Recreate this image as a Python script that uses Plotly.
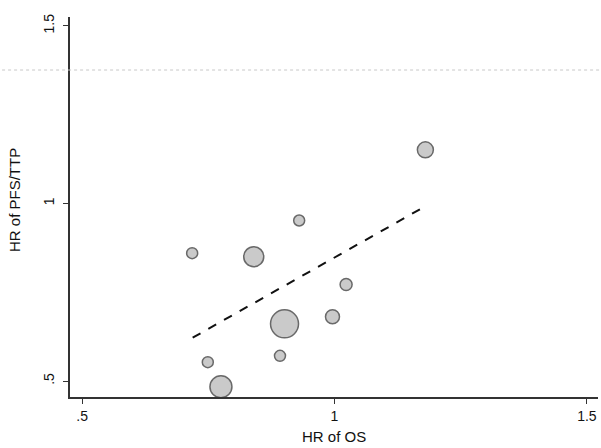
import plotly.graph_objects as go

# study points (HR of OS vs HR of PFS/TTP) and bubble weights
hr_os = [1.180, 0.930, 0.718, 0.840, 1.023, 0.996, 0.901, 0.892, 0.749, 0.775]
hr_pfs = [1.151, 0.952, 0.860, 0.850, 0.772, 0.681, 0.661, 0.571, 0.553, 0.484]
weight = [16, 11, 11, 20, 12, 14, 28, 11, 11, 22]

# fitted regression line endpoints
fit_x = [0.719, 1.181]
fit_y = [0.622, 0.993]

x_ticks = [0.5, 1, 1.5]
x_labels = [".5", "1", "1.5"]
y_ticks = [0.5, 1, 1.5]
y_labels = [".5", "1", "1.5"]

fig = go.Figure()
fig.add_trace(go.Scatter(
    x=fit_x, y=fit_y, mode="lines",
    line=dict(color="#111111", width=2, dash="dash"),
    hoverinfo="skip", showlegend=False))
fig.add_trace(go.Scatter(
    x=hr_os, y=hr_pfs, mode="markers",
    marker=dict(size=weight, color="#b4b4b4",
                line=dict(color="#2a2a2a", width=1.5)),
    showlegend=False))

# faint scan artifact line across the page
fig.add_shape(type="line", xref="paper", yref="paper",
              x0=-0.14, x1=1.01, y0=(397 - 70) / 380, y1=(397 - 70) / 380,
              line=dict(color="#c8c8c8", width=1, dash="dot"))

# axis titles as annotations
fig.add_annotation(text="HR of OS", xref="paper", yref="paper",
                   x=(334 - 70) / 528, y=-(437 - 397) / 380,
                   showarrow=False, font=dict(size=15), xanchor="center", yanchor="middle")
fig.add_annotation(text="HR of PFS/TTP", xref="paper", yref="paper",
                   x=-(70 - 14) / 528, y=(397 - 200) / 380, textangle=-90,
                   showarrow=False, font=dict(size=15), xanchor="center", yanchor="middle")

font = dict(family="Liberation Sans, Arial, sans-serif", color="#111111")
fig.update_layout(
    width=601, height=448,
    margin=dict(l=70, r=3, t=17, b=51),
    paper_bgcolor="white", plot_bgcolor="white",
    font=font,
    xaxis=dict(range=[0.476, 1.522], tickvals=x_ticks, ticktext=x_labels,
               showline=True, linecolor="#333333", linewidth=1.5,
               ticks="outside", ticklen=5, tickcolor="#333333",
               showgrid=False, zeroline=False, automargin=False,
               tickfont=dict(size=14)),
    yaxis=dict(range=[0.455, 1.525], tickvals=y_ticks, ticktext=y_labels,
               showline=True, linecolor="#333333", linewidth=1.5,
               ticks="outside", ticklen=5, tickcolor="#333333",
               showgrid=False, zeroline=False, tickangle=-90, automargin=False,
               ticklabelstandoff=4,
               tickfont=dict(size=14)),
)
fig.write_html("out.html", config={"displayModeBar": False},
               post_script="document.body.style.margin='0';")
